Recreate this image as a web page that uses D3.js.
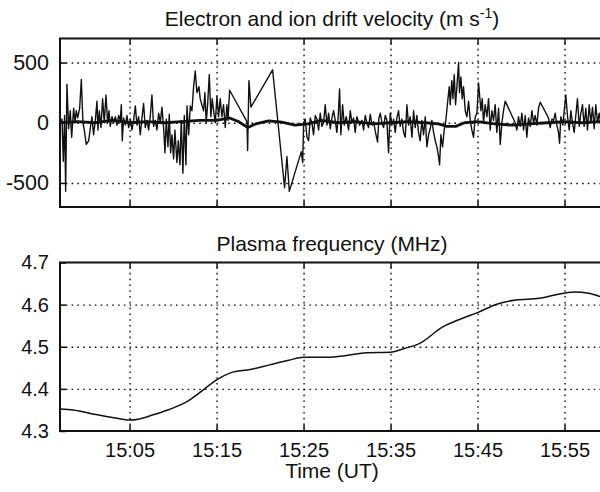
<!DOCTYPE html>
<html>
<head>
<meta charset="utf-8">
<script src="https://cdn.jsdelivr.net/npm/d3@7"></script>
<style>
  body { margin: 0; background: #fff; }
  svg { display: block; font-family: "Liberation Sans", Arial, sans-serif; }
  .grid line { stroke: #111; stroke-width: 1.4; stroke-dasharray: 1.6,4.2; }
  .grid path { display: none; }
  .ticks line { stroke: #111; stroke-width: 1.5; }
  .ticks path { display: none; }
  .lbl text { font-size: 20px; fill: #111; }
  .lbl.big text { font-size: 21.5px; }
  .lbl line, .lbl path { display: none; }
  .title { font-size: 21px; fill: #111; text-anchor: middle; }
</style>
</head>
<body>
<svg width="600" height="492"></svg>
<script>
// time in minutes after 15:00 UT
const xTicks = [5, 15, 25, 35, 45, 55]
const velTicks = [-500, 0, 500]
const freqTicks = [4.3, 4.4, 4.5, 4.6, 4.7]

// electron drift velocity (thin trace)
const eTime = [
  -2.97, -2.77, -2.62, -2.47, -2.35, -2.20, -2.01, -1.82, -1.66, -1.43, -1.28, -1.13, -0.97, -0.74, -0.55, -0.36, -0.21,
  0.02, 0.29, 0.48, 0.67, 0.86, 1.06, 1.25, 1.36, 1.52, 1.71, 1.90, 2.09, 2.28, 2.48, 2.63, 2.78, 2.98, 3.17, 3.36, 3.55,
  3.74, 3.93, 4.05, 4.16, 4.31, 4.51, 4.70, 4.89, 5.08, 5.27, 5.46, 5.66, 5.85, 6.04, 6.23, 6.42, 6.61, 6.80, 7.00, 7.19,
  7.38, 7.57, 7.76, 7.95, 8.14, 8.34, 8.53, 8.72, 8.91, 9.07, 9.22, 9.41, 9.56, 9.72, 9.87, 10.06, 10.21, 10.44, 10.60,
  10.79, 10.94, 11.13, 11.29, 11.48, 11.60, 11.79, 11.98, 12.17, 12.36, 12.55, 12.74, 12.97, 13.12, 13.31, 13.51, 13.66,
  13.81, 13.97, 14.16, 14.35, 14.50, 14.66, 14.85, 15.04, 15.23, 15.42, 15.61, 15.80, 16.00, 16.19, 16.31, 16.50,
  18.49, 18.57, 18.72, 18.95, 21.44, 22.82, 23.09, 23.36, 24.74, 24.90, 25.01,
  25.19, 25.39, 25.58, 25.77, 25.96, 26.15, 26.35, 26.54, 26.73, 26.92, 27.11, 27.30, 27.49, 27.69, 27.88, 28.07, 28.26,
  28.45, 28.64, 28.83, 28.99, 29.14, 29.29, 29.49, 29.68, 29.91, 30.18, 30.37, 30.56, 30.75, 30.94, 31.13, 31.44, 31.71,
  31.90, 32.09, 32.28, 32.47, 32.67, 32.86, 33.05, 33.24, 33.51, 33.66, 33.82, 34.01, 34.20, 34.39, 34.58, 34.77, 34.96,
  35.16, 35.35, 35.54, 35.73, 35.92, 36.11, 36.31, 36.50, 36.69, 36.88, 37.07, 37.26, 37.46, 37.65, 37.84, 38.03, 38.22,
  38.41, 38.60, 38.80, 38.99, 39.18, 39.37, 39.56, 39.75, 39.95, 40.14, 40.33, 40.52, 40.64, 40.79, 40.98, 41.17, 41.36,
  41.56, 41.75, 41.86, 42.05, 42.17, 42.32, 42.47, 42.63, 42.82, 42.93, 43.09, 43.24, 43.39, 43.59, 43.78, 43.97, 44.16,
  44.35, 44.54, 44.74, 44.93, 45.12, 45.39, 45.54, 45.69, 45.88, 46.08, 46.27, 46.46, 46.65, 46.84, 47.03, 47.22, 47.42,
  47.61, 47.80, 47.99, 48.18, 49.33, 49.52, 49.71, 49.91, 50.10, 50.29, 50.48, 50.67, 50.86, 51.06, 51.25, 51.44, 51.63,
  51.82, 52.01, 52.21, 53.16, 53.35, 53.55, 53.74, 53.93, 54.12, 54.31, 54.43, 54.58, 54.81, 54.97, 55.15, 55.35, 55.54,
  55.73, 55.92, 56.11, 56.30, 56.49, 56.69, 56.88, 57.07, 57.26, 57.45, 57.64, 57.84, 58.03, 58.22, 58.41, 58.60, 58.79,
  58.99, 59.10, 59.30, 59.50, 59.70
]
const eVel = [
  0, 30, -320, 60, -570, 320, -50, 100, -120, 120, 0, 100, 40, 120, 360, 0, -60,
  -180, -150, -50, 50, -100, 20, 180, -60, 100, -40, 200, 0, 230, 0, 100, -30, 50, 0, 50, -20,
  60, 20, 150, -150, 40, -20, 60, -40, 30, -60, 20, 140, -20, 50, -100, 40, 160, -40, 20, -60,
  60, 230, -30, 20, -60, 80, 0, 130, -40, -250, 30, -200, 70, -250, -100, -300, -60, -330, -150,
  -350, 20, -420, 60, -350, 140, -100, 140, 100, 300, 430, 250, 300, 200, 150, 100, 250,
  0, 150, 400, 50, 200, 100, 0, 220, 50, 200, 50, 150, -40, 150, 20, 270,
  10, -230, 350, 130, 440, -540, -280, -570, -240, -330, 0,
  30, -120, -150, 40, 0, -100, 60, 30, -60, 80, -30, 0, 150, -20, 80, -50, 40,
  100, 20, -80, 60, 280, -100, 150, -20, 50, -60, 100, 0, 40, -80, 50, -20, 20,
  -60, 60, 0, -40, 70, -20, 10, -70, -160, 40, 80, 0, -40, 60, 20, -250, 80,
  -20, 30, -80, 40, 100, -30, 30, -80, -120, 150, -20, 50, -120, 100, -40, 60, -80,
  -150, 20, -100, 50, -200, -100, -50, 20, -80, -150, -200, -280, -350, -100, -200, -60, 20,
  170, 300, 150, 350, 200, 400, 150, 300, 500, 250, 380, 200, 300, 100, 50, 180, 20,
  -60, -120, 50, 80, 330, 100, 200, 0, 150, 50, 200, -60, 100, 20, 150, -80, 120,
  -180, 0, 100, 180, 0, -60, 50, -30, 80, -60, 60, -120, 40, -30, 100, 0, 60,
  -20, 120, 170, 40, -40, 30, 20, 80, -20, -80, -170, 50, -20, 100, 230, 50, -60,
  100, 0, -80, 60, 200, -30, 80, 150, -30, 120, -60, 150, 0, 130, -50, 150, 0,
  80, 20, 100, -20, 60
]

// ion drift velocity (thick trace)
const iTime = [-3, -1, 1, 3, 5, 7, 9, 11, 13, 15, 16.5, 17.5, 18.6, 19.5, 21, 22.5, 24, 25.5, 27, 29, 31, 33, 35,
  37, 39, 40.5, 41.5, 42.5, 43.5, 45, 47, 49, 51, 53, 55, 57, 59, 60]
const iVel = [0, 10, 0, 20, 0, 10, 0, 10, 20, 20, 40, 10, -40, -10, 15, 5, -20, -10, 20, 0, 10, -10, 0,
  10, 0, -10, -30, -30, 0, 10, -10, -20, -10, 0, 10, 0, 10, 0]

// plasma frequency (MHz)
const fTime = [-2.97, -1.5, 1.15, 3.36, 5.0, 6.0, 7.8, 9.56, 11.78, 13.55, 14.96, 16.6, 18.86, 21.08, 23.29, 25.0,
  27.7, 29.9, 32.2, 35.0, 36.6, 38.35, 41.0, 43.2, 45.0, 47.2, 49.4, 52.1, 53.9, 56.1, 57.8, 59.5, 60]
const fVal = [4.352, 4.350, 4.339, 4.331, 4.326, 4.328, 4.339, 4.351, 4.372, 4.399, 4.421, 4.438, 4.446, 4.457,
  4.468, 4.475, 4.475, 4.479, 4.486, 4.487, 4.496, 4.508, 4.547, 4.567, 4.581, 4.601, 4.611, 4.615, 4.623,
  4.630, 4.627, 4.616, 4.612]

const svg = d3.select('svg')
const left = 60, right = 608

const x = d3.scaleLinear().domain([-3, 60]).range([left, right])
const yVel = d3.scaleLinear().domain([-700, 700]).range([207, 38.5])
const yFreq = d3.scaleLinear().domain([4.3, 4.7]).range([431, 262.5])

const fmtTime = m => `15:${String(m).padStart(2, '0')}`
const fmtVel = v => String(v)   // plain hyphen for negatives, as in the figure

function panel(y, yTicks, yFmt, id, lblClass) {
  const top = y.range()[1], bottom = y.range()[0], h = bottom - top
  const g = svg.append('g')

  svg.append('clipPath').attr('id', id)
    .append('rect').attr('x', left).attr('y', top).attr('width', right - left).attr('height', h)

  // dotted grid
  g.append('g').attr('class', 'grid')
    .attr('transform', `translate(0,${bottom})`)
    .call(d3.axisBottom(x).tickValues(xTicks).tickSize(-h).tickFormat(''))
  g.append('g').attr('class', 'grid')
    .attr('transform', `translate(${left},0)`)
    .call(d3.axisLeft(y).tickValues(yTicks.filter(v => v > y.domain()[0] && v < y.domain()[1])).tickSize(-(right - left)).tickFormat(''))

  // inward tick marks
  g.append('g').attr('class', 'ticks')
    .attr('transform', `translate(0,${bottom})`)
    .call(d3.axisBottom(x).tickValues(xTicks).tickSize(-6).tickFormat(''))
  g.append('g').attr('class', 'ticks')
    .attr('transform', `translate(0,${top})`)
    .call(d3.axisTop(x).tickValues(xTicks).tickSize(-6).tickFormat(''))
  g.append('g').attr('class', 'ticks')
    .attr('transform', `translate(${left},0)`)
    .call(d3.axisLeft(y).tickValues(yTicks).tickSize(-6).tickFormat(''))

  // y labels
  g.append('g').attr('class', lblClass)
    .attr('transform', `translate(${left},0)`)
    .call(d3.axisLeft(y).tickValues(yTicks).tickSize(0).tickPadding(11).tickFormat(yFmt))

  const plot = svg.append('g').attr('clip-path', `url(#${id})`)

  // frame
  svg.append('rect')
    .attr('x', left).attr('y', top).attr('width', right - left).attr('height', h)
    .attr('fill', 'none').attr('stroke', '#111').attr('stroke-width', 2)

  return plot
}

// top panel: drift velocities
const p1 = panel(yVel, velTicks, fmtVel, 'clipTop', 'lbl big')

p1.append('path')
  .datum(d3.zip(eTime, eVel))
  .attr('fill', 'none').attr('stroke', '#111').attr('stroke-width', 1.4).attr('stroke-linejoin', 'round')
  .attr('d', d3.line().x(d => x(d[0])).y(d => yVel(d[1])))

p1.append('path')
  .datum(d3.zip(iTime, iVel))
  .attr('fill', 'none').attr('stroke', '#111').attr('stroke-width', 2.8).attr('stroke-linejoin', 'round')
  .attr('d', d3.line().x(d => x(d[0])).y(d => yVel(d[1])))

const t1 = svg.append('text').attr('class', 'title').attr('x', 332).attr('y', 26)
t1.append('tspan').text('Electron and ion drift velocity (m s')
t1.append('tspan').attr('font-size', 14).attr('dy', -8).text('-1')
t1.append('tspan').attr('dy', 8).text(')')

// bottom panel: plasma frequency
const p2 = panel(yFreq, freqTicks, d3.format('.1f'), 'clipBot', 'lbl')

p2.append('path')
  .datum(d3.zip(fTime, fVal))
  .attr('fill', 'none').attr('stroke', '#111').attr('stroke-width', 1.5)
  .attr('d', d3.line().curve(d3.curveMonotoneX).x(d => x(d[0])).y(d => yFreq(d[1])))

svg.append('text').attr('class', 'title').attr('x', 332).attr('y', 251).text('Plasma frequency (MHz)')

svg.append('g').attr('class', 'lbl')
  .attr('transform', `translate(0,431)`)
  .call(d3.axisBottom(x).tickValues(xTicks).tickSize(0).tickPadding(12).tickFormat(fmtTime))

svg.append('text').attr('class', 'title').attr('x', 332).attr('y', 478).text('Time (UT)')
</script>
</body>
</html>
